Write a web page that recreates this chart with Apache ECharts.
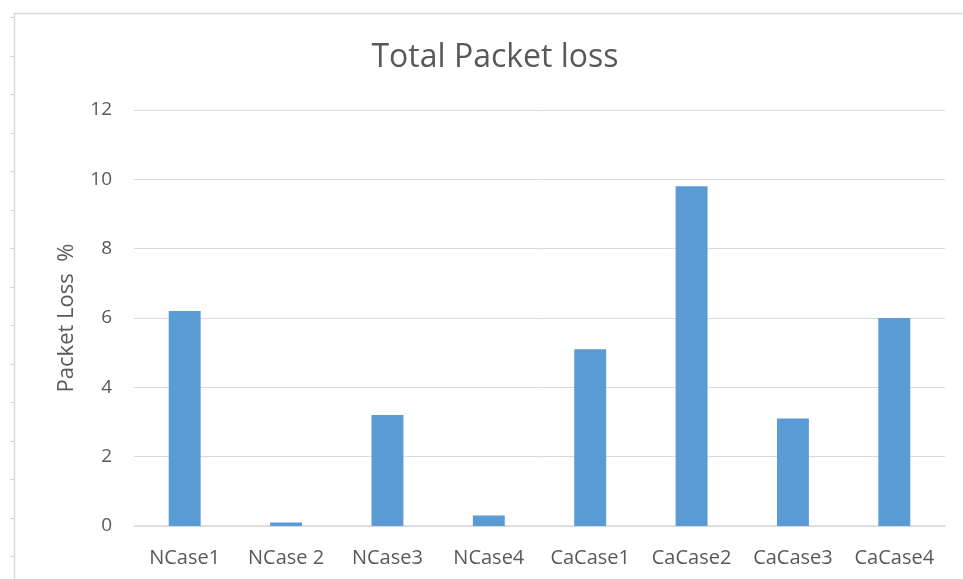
<!DOCTYPE html>
<html>
<head>
<meta charset="utf-8">
<script src="https://cdn.jsdelivr.net/npm/echarts@6/dist/echarts.min.js"></script>
<style>
  html, body { margin: 0; padding: 0; background: #ffffff; }
  #chart { width: 963px; height: 579px; }
</style>
</head>
<body>
<div id="chart"></div>
<script>
// Packet loss per test case (percent)
const categories = ['NCase1', 'NCase 2', 'NCase3', 'NCase4', 'CaCase1', 'CaCase2', 'CaCase3', 'CaCase4'];
const packetLoss = [6.2, 0.1, 3.2, 0.3, 5.1, 9.8, 3.1, 6.0];
const yTicks = [0, 2, 4, 6, 8, 10, 12];

const chart = echarts.init(document.getElementById('chart'), null, { renderer: 'canvas' });

// Sheet-style frame: top edge, left edge and small ruler ticks along the left
const frameColor = '#d9d9d9';
const frame = [
  { type: 'line', shape: { x1: 14, y1: 13.5, x2: 963, y2: 13.5 }, style: { stroke: frameColor, lineWidth: 1.5 }, silent: true },
  { type: 'line', shape: { x1: 14.5, y1: 13, x2: 14.5, y2: 579 }, style: { stroke: frameColor, lineWidth: 1.5 }, silent: true }
];
for (let y = 17; y < 579; y += 38.5) {
  frame.push({ type: 'line', shape: { x1: 10, y1: Math.round(y) + 0.5, x2: 14, y2: Math.round(y) + 0.5 }, style: { stroke: frameColor, lineWidth: 1 }, silent: true });
}

const font = '"Open Sans", Lato, sans-serif';

chart.setOption({
  backgroundColor: '#ffffff',
  animation: false,
  title: {
    text: 'Total Packet loss',
    left: 490,
    top: 37,
    textAlign: 'center',
    textStyle: { fontFamily: font, fontSize: 32, fontWeight: 'normal', color: '#595959' }
  },
  graphic: frame,
  grid: { left: 134, right: 18, top: 110, bottom: 53, containLabel: false },
  xAxis: {
    type: 'category',
    data: categories,
    axisLine: { show: true, lineStyle: { color: '#d9d9d9', width: 1.5 } },
    axisTick: { show: false },
    axisLabel: { interval: 0, fontFamily: font, fontSize: 20, color: '#595959', margin: 22 }
  },
  yAxis: {
    type: 'value',
    min: yTicks[0],
    max: yTicks[yTicks.length - 1],
    interval: yTicks[1] - yTicks[0],
    name: 'Packet Loss  %',
    nameLocation: 'middle',
    nameGap: 56,
    nameRotate: 90,
    nameTextStyle: { fontFamily: font, fontSize: 22, color: '#595959' },
    axisLine: { show: false },
    axisTick: { show: false },
    splitLine: { show: true, lineStyle: { color: '#d9d9d9', width: 1 } },
    axisLabel: { fontFamily: font, fontSize: 19, color: '#595959', margin: 22 }
  },
  series: [{
    type: 'bar',
    data: packetLoss,
    barWidth: '31.5%',
    itemStyle: { color: '#5b9bd5' }
  }]
});
</script>
</body>
</html>
